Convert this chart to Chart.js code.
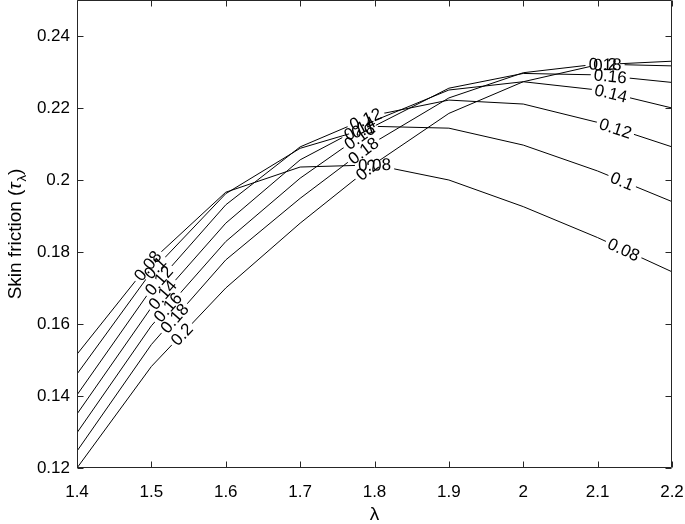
<!DOCTYPE html>
<html><head><meta charset="utf-8">
<script src="https://cdn.jsdelivr.net/npm/chart.js@4.4.1/dist/chart.umd.min.js"></script>
<style>html,body{margin:0;padding:0;background:#fff}#wrap{width:685px;height:524px}</style>
</head><body><div id="wrap"><canvas id="c" width="685" height="524"></canvas></div>
<script>
// ---- data ----
const lambdaValues = [1.4, 1.5, 1.6, 1.7, 1.8, 1.9, 2.0, 2.1, 2.2];
const levelNames = ['0.08', '0.1', '0.12', '0.14', '0.16', '0.18', '0.2'];
const tau008 = [0.1516, 0.1775, 0.1966, 0.2036, 0.2042, 0.2000, 0.1926, 0.1840, 0.1745];
const tau010 = [0.1461, 0.1745, 0.1962, 0.2088, 0.2149, 0.2144, 0.2097, 0.2025, 0.1940];
const tau012 = [0.1403, 0.1697, 0.1931, 0.2092, 0.2180, 0.2222, 0.2211, 0.2160, 0.2092];
const tau014 = [0.1350, 0.1646, 0.1880, 0.2056, 0.2165, 0.2250, 0.2273, 0.2250, 0.2200];
const tau016 = [0.1298, 0.1595, 0.1829, 0.2005, 0.2150, 0.2255, 0.2296, 0.2292, 0.2271];
const tau018 = [0.1247, 0.1543, 0.1778, 0.1949, 0.2105, 0.2228, 0.2298, 0.2322, 0.2317];
const tau020 = [0.1200, 0.1482, 0.1700, 0.1880, 0.2045, 0.2185, 0.2273, 0.2320, 0.2330];
const seriesList = [tau008, tau010, tau012, tau014, tau016, tau018, tau020];
const xTickValues = [1.4, 1.5, 1.6, 1.7, 1.8, 1.9, 2.0, 2.1, 2.2];
const yTickValues = [0.12, 0.14, 0.16, 0.18, 0.20, 0.22, 0.24];
// lambda at which each level's inline label sits (three label groups)
const labelAtLeft  = [1.495, 1.505, 1.510, 1.515, 1.522, 1.531, 1.541];
const labelAtMid   = [1.800, 1.785, 1.788, 1.780, 1.780, 1.785, 1.790];
const labelAtRight = [2.135, 2.133, 2.124, 2.118, 2.117, 2.110, 2.110];

const FAMILY = '"Liberation Sans", Arial, Helvetica, sans-serif';
const LABEL_FONT = '17px ' + FAMILY;
const fmt = v => String(Math.round(v * 100) / 100);

function placements(chart) {
  const out = [];
  const xs = chart.scales.x;
  const ctx = chart.ctx;
  ctx.save();
  ctx.font = LABEL_FONT;
  seriesList.forEach((s, i) => {
    const pts = chart.getDatasetMeta(i).data;
    [labelAtLeft, labelAtMid, labelAtRight].forEach(arr => {
      const px = xs.getPixelForValue(arr[i]);
      let k = 0;
      while (k < pts.length - 2 && pts[k + 1].x < px) k++;
      const a = pts[k], b = pts[k + 1];
      const t = (px - a.x) / (b.x - a.x);
      const py = a.y + t * (b.y - a.y);
      const ang = Math.atan2(b.y - a.y, b.x - a.x);
      const w = ctx.measureText(levelNames[i]).width;
      out.push({ i, px, py, ang, w, text: levelNames[i] });
    });
  });
  ctx.restore();
  return out;
}

const contourLabels = {
  id: 'contourLabels',
  beforeDatasetDraw(chart, args) {
    const ctx = chart.ctx;
    const pl = placements(chart).filter(p => p.i === args.index);
    ctx.save();
    ctx.beginPath();
    ctx.rect(0, 0, chart.width, chart.height);
    pl.forEach(p => {
      const hw = p.w / 2 + 3, hh = 8;
      const c = Math.cos(p.ang), s = Math.sin(p.ang);
      const corners = [[-hw, -hh], [hw, -hh], [hw, hh], [-hw, hh]].map(([u, v]) => [p.px + u * c - v * s, p.py + u * s + v * c]);
      ctx.moveTo(corners[0][0], corners[0][1]);
      for (let j = 1; j < 4; j++) ctx.lineTo(corners[j][0], corners[j][1]);
      ctx.closePath();
    });
    ctx.clip('evenodd');
  },
  afterDatasetDraw(chart) {
    chart.ctx.restore();
  },
  afterDatasetsDraw(chart) {
    const ctx = chart.ctx;
    const pl = placements(chart);
    ctx.save();
    ctx.font = LABEL_FONT;
    ctx.fillStyle = '#000';
    ctx.textAlign = 'center';
    ctx.textBaseline = 'middle';
    pl.forEach(p => {
      ctx.save();
      ctx.translate(p.px, p.py);
      ctx.rotate(p.ang);
      ctx.fillText(p.text, 0, 1);
      ctx.restore();
    });
    ctx.restore();
  }
};

const frame = {
  id: 'frame',
  afterDraw(chart) {
    const ctx = chart.ctx;
    const a = chart.chartArea;
    const xs = chart.scales.x, ys = chart.scales.y;
    ctx.save();
    ctx.strokeStyle = '#262626';
    ctx.lineWidth = 1;
    const L = Math.round(a.left) + 0.5, R = Math.round(a.right) - 0.5;
    const T = Math.round(a.top) + 0.5, B = Math.round(a.bottom) - 0.5;
    ctx.beginPath();
    ctx.rect(L, T, R - L, B - T);
    const tl = 6;
    xTickValues.forEach(v => {
      const x = Math.round(xs.getPixelForValue(v)) + 0.5;
      ctx.moveTo(x, B); ctx.lineTo(x, B - tl);
      ctx.moveTo(x, T); ctx.lineTo(x, T + tl);
    });
    yTickValues.forEach(v => {
      const y = Math.round(ys.getPixelForValue(v)) + 0.5;
      ctx.moveTo(L, y); ctx.lineTo(L + tl, y);
      ctx.moveTo(R, y); ctx.lineTo(R - tl, y);
    });
    ctx.stroke();

    // axis titles
    ctx.fillStyle = '#000';
    ctx.textBaseline = 'alphabetic';
    ctx.font = '19px ' + FAMILY;
    ctx.textAlign = 'center';
    ctx.fillText('λ', (a.left + a.right) / 2, 520);

    // y title: Skin friction (τ_λ)
    ctx.save();
    ctx.translate(21, 234);
    ctx.rotate(-Math.PI / 2);
    ctx.textAlign = 'left';
    const f1 = '19px ' + FAMILY, fTau = 'italic 19px ' + FAMILY, fSub = '13px ' + FAMILY;
    ctx.font = f1; const w1 = ctx.measureText('Skin friction (').width;
    ctx.font = fTau; const w2 = ctx.measureText('τ').width;
    ctx.font = fSub; const w3 = ctx.measureText('λ').width;
    ctx.font = f1; const w4 = ctx.measureText(')').width;
    let x0 = -(w1 + w2 + w3 + w4 + 1) / 2;
    ctx.font = f1; ctx.fillText('Skin friction (', x0, 0); x0 += w1;
    ctx.font = fTau; ctx.fillText('τ', x0, 0); x0 += w2 + 1;
    ctx.font = fSub; ctx.fillText('λ', x0, 5); x0 += w3;
    ctx.font = f1; ctx.fillText(')', x0, 0);
    ctx.restore();
    ctx.restore();
  }
};

new Chart(document.getElementById('c'), {
  type: 'line',
  data: {
    datasets: seriesList.map((s, i) => ({
      label: levelNames[i],
      data: lambdaValues.map((x, j) => ({ x, y: s[j] })),
      borderColor: '#000',
      borderWidth: 1,
      pointRadius: 0,
      tension: 0,
      fill: false
    }))
  },
  options: {
    responsive: false,
    animation: false,
    devicePixelRatio: 1,
    events: [],
    layout: { padding: { left: 0, right: 13, top: 0, bottom: 0 } },
    plugins: { legend: { display: false }, tooltip: { enabled: false } },
    scales: {
      x: {
        type: 'linear', min: 1.4, max: 2.2,
        afterBuildTicks: s => { s.ticks = xTickValues.map(v => ({ value: v })); },
        afterFit: s => { s.height = 56; s.paddingLeft = 0; s.paddingRight = 0; },
        grid: { display: false, drawTicks: false },
        border: { display: false },
        ticks: { callback: v => fmt(v), color: '#000', font: { size: 17, family: FAMILY }, padding: 14, maxRotation: 0, autoSkip: false }
      },
      y: {
        type: 'linear', min: 0.12, max: 0.25,
        afterBuildTicks: s => { s.ticks = yTickValues.map(v => ({ value: v })); },
        afterFit: s => { s.width = 77; s.paddingTop = 0; s.paddingBottom = 0; },
        grid: { display: false, drawTicks: false },
        border: { display: false },
        ticks: { callback: v => fmt(v), color: '#000', font: { size: 17, family: FAMILY }, padding: 7, autoSkip: false }
      }
    }
  },
  plugins: [contourLabels, frame]
});
</script>
</body></html>
